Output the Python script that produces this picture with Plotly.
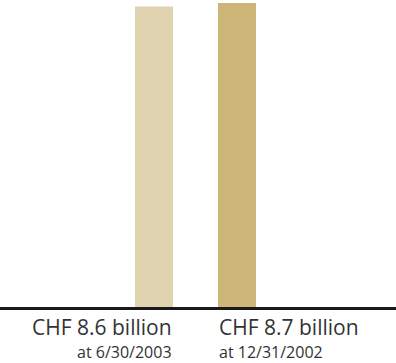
import plotly.graph_objects as go

# Total value, CHF billion
dates = ["at 6/30/2003", "at 12/31/2002"]
values = [8.6, 8.7]
colors = ["#E0D4B0", "#CCB678"]
positions = [0, 1]

W, H = 396, 363
bottom = 56
plot_h = H - bottom

fig = go.Figure(
    go.Bar(
        x=positions,
        y=values,
        width=0.458,
        marker=dict(color=colors, line=dict(width=0)),
        hoverinfo="skip",
    )
)

# first label right-aligned to its bar, second left-aligned to its bar
anchors = ["right", "left"]
offsets = [0.229, -0.229]
for p, v, d, a, o in zip(positions, values, dates, anchors, offsets):
    fig.add_annotation(
        x=p + o, y=0, xref="x", yref="y", yshift=-5,
        text=f"CHF {v} billion", showarrow=False,
        xanchor=a, yanchor="top", borderpad=0,
        font=dict(family="Open Sans", size=21, color="#333333"),
    )
    fig.add_annotation(
        x=p + o, y=0, xref="x", yref="y", yshift=-33,
        text=d, showarrow=False,
        xanchor=a, yanchor="top", borderpad=0,
        font=dict(family="Open Sans", size=16, color="#333333"),
    )

fig.add_shape(
    type="line", xref="paper", yref="paper", x0=0, x1=1,
    y0=-1.5 / plot_h, y1=-1.5 / plot_h,
    line=dict(color="#1a1a1a", width=3),
)

fig.update_layout(
    width=W, height=H,
    margin=dict(l=0, r=0, t=0, b=bottom),
    paper_bgcolor="white", plot_bgcolor="white",
    showlegend=False,
    xaxis=dict(range=[-154 / 83, 242 / 83], visible=False, fixedrange=True),
    yaxis=dict(range=[0, 8.786], visible=False, fixedrange=True),
)

fig.write_html("out.html", config={"displayModeBar": False})
